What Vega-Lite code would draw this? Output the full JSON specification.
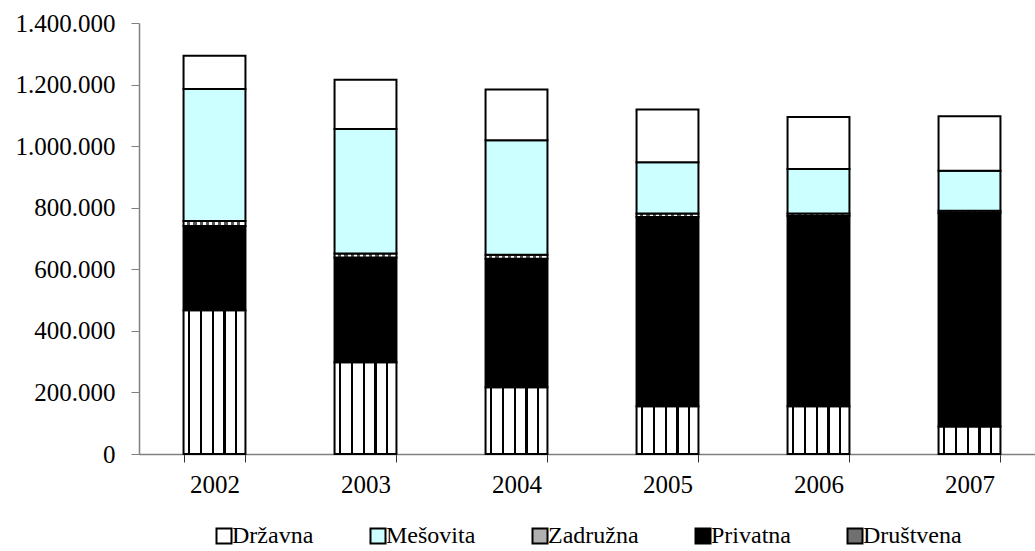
{
  "$schema": "https://vega.github.io/schema/vega-lite/v6.json",
  "width": 896,
  "height": 431,
  "autosize": "none",
  "padding": {"left": 139, "top": 23, "right": 0, "bottom": 97},
  "background": "white",
  "config": {"view": {"stroke": null}, "font": "Liberation Serif"},
  "datasets": {
    "stackOrder": [
      {"series": "Društvena", "k": 1},
      {"series": "Privatna", "k": 2},
      {"series": "Zadružna", "k": 3},
      {"series": "Mešovita", "k": 4},
      {"series": "Državna", "k": 5}
    ]
  },
  "data": {
    "values": [
      {"year": "2002", "series": "Društvena", "value": 467000},
      {"year": "2002", "series": "Privatna", "value": 274000},
      {"year": "2002", "series": "Zadružna", "value": 16000},
      {"year": "2002", "series": "Mešovita", "value": 429000},
      {"year": "2002", "series": "Državna", "value": 108000},
      {"year": "2003", "series": "Društvena", "value": 298000},
      {"year": "2003", "series": "Privatna", "value": 340000},
      {"year": "2003", "series": "Zadružna", "value": 13000},
      {"year": "2003", "series": "Mešovita", "value": 405000},
      {"year": "2003", "series": "Državna", "value": 160000},
      {"year": "2004", "series": "Društvena", "value": 217000},
      {"year": "2004", "series": "Privatna", "value": 417000},
      {"year": "2004", "series": "Zadružna", "value": 13000},
      {"year": "2004", "series": "Mešovita", "value": 372000},
      {"year": "2004", "series": "Državna", "value": 165000},
      {"year": "2005", "series": "Društvena", "value": 155000},
      {"year": "2005", "series": "Privatna", "value": 615000},
      {"year": "2005", "series": "Zadružna", "value": 11000},
      {"year": "2005", "series": "Mešovita", "value": 167000},
      {"year": "2005", "series": "Državna", "value": 171000},
      {"year": "2006", "series": "Društvena", "value": 155000},
      {"year": "2006", "series": "Privatna", "value": 618000},
      {"year": "2006", "series": "Zadružna", "value": 8000},
      {"year": "2006", "series": "Mešovita", "value": 145000},
      {"year": "2006", "series": "Državna", "value": 169000},
      {"year": "2007", "series": "Društvena", "value": 89000},
      {"year": "2007", "series": "Privatna", "value": 694000},
      {"year": "2007", "series": "Zadružna", "value": 7000},
      {"year": "2007", "series": "Mešovita", "value": 130000},
      {"year": "2007", "series": "Državna", "value": 177000}
    ]
  },
  "transform": [
    {"lookup": "series", "from": {"data": {"name": "stackOrder"}, "key": "series", "fields": ["k"]}}
  ],
  "mark": {"type": "bar", "stroke": "black", "strokeWidth": 2},
  "encoding": {
    "x": {
      "field": "year",
      "type": "nominal",
      "scale": {"range": [0, 906], "paddingInner": 0.59, "paddingOuter": 0.295},
      "axis": {
        "title": null,
        "labelAngle": 0,
        "tickBand": "extent",
        "labelFont": "Liberation Serif",
        "labelFontSize": 25,
        "labelColor": "black",
        "domainColor": "#808080",
        "domainWidth": 1.5,
        "tickColor": "#333333",
        "tickSize": 8,
        "labelPadding": 10
      }
    },
    "y": {
      "field": "value",
      "type": "quantitative",
      "stack": "zero",
      "scale": {"domain": [0, 1400000], "nice": false},
      "axis": {
        "title": null,
        "values": [0, 200000, 400000, 600000, 800000, 1000000, 1200000, 1400000],
        "grid": false,
        "labelExpr": "replace(format(datum.value, ','), /,/g, '.')",
        "labelFont": "Liberation Serif",
        "labelFontSize": 25,
        "labelColor": "black",
        "domainColor": "#808080",
        "domainWidth": 1.5,
        "tickColor": "#808080",
        "tickSize": 8,
        "labelPadding": 16
      }
    },
    "order": {"field": "k", "type": "quantitative", "sort": "ascending"},
    "fill": {
      "condition": [
        {"test": "datum.series === 'Zadružna'", "value": {"gradient": "linear", "x1": 0, "y1": 0, "x2": 1, "y2": 0, "stops": [
            {"offset": 0, "color": "#ffffff"}, {"offset": 0.06, "color": "#ffffff"}, {"offset": 0.06, "color": "#555555"}, {"offset": 0.11, "color": "#555555"},
            {"offset": 0.11, "color": "#ffffff"}, {"offset": 0.16, "color": "#ffffff"}, {"offset": 0.16, "color": "#555555"}, {"offset": 0.21, "color": "#555555"},
            {"offset": 0.21, "color": "#ffffff"}, {"offset": 0.26, "color": "#ffffff"}, {"offset": 0.26, "color": "#555555"}, {"offset": 0.31, "color": "#555555"},
            {"offset": 0.31, "color": "#ffffff"}, {"offset": 0.36, "color": "#ffffff"}, {"offset": 0.36, "color": "#555555"}, {"offset": 0.41, "color": "#555555"},
            {"offset": 0.41, "color": "#ffffff"}, {"offset": 0.46, "color": "#ffffff"}, {"offset": 0.46, "color": "#555555"}, {"offset": 0.51, "color": "#555555"},
            {"offset": 0.51, "color": "#ffffff"}, {"offset": 0.56, "color": "#ffffff"}, {"offset": 0.56, "color": "#555555"}, {"offset": 0.61, "color": "#555555"},
            {"offset": 0.61, "color": "#ffffff"}, {"offset": 0.66, "color": "#ffffff"}, {"offset": 0.66, "color": "#555555"}, {"offset": 0.71, "color": "#555555"},
            {"offset": 0.71, "color": "#ffffff"}, {"offset": 0.76, "color": "#ffffff"}, {"offset": 0.76, "color": "#555555"}, {"offset": 0.81, "color": "#555555"},
            {"offset": 0.81, "color": "#ffffff"}, {"offset": 0.86, "color": "#ffffff"}, {"offset": 0.86, "color": "#555555"}, {"offset": 0.91, "color": "#555555"},
            {"offset": 0.91, "color": "#ffffff"}, {"offset": 1, "color": "#ffffff"}
          ]}},
        {"test": "datum.series === 'Društvena'", "value": {"gradient": "linear", "x1": 0, "y1": 0, "x2": 1, "y2": 0, "stops": [
            {"offset": 0, "color": "#ffffff"}, {"offset": 0.075, "color": "#ffffff"}, {"offset": 0.075, "color": "#000000"}, {"offset": 0.11, "color": "#000000"},
            {"offset": 0.11, "color": "#ffffff"}, {"offset": 0.265, "color": "#ffffff"}, {"offset": 0.265, "color": "#000000"}, {"offset": 0.30, "color": "#000000"},
            {"offset": 0.30, "color": "#ffffff"}, {"offset": 0.455, "color": "#ffffff"}, {"offset": 0.455, "color": "#000000"}, {"offset": 0.49, "color": "#000000"},
            {"offset": 0.49, "color": "#ffffff"}, {"offset": 0.645, "color": "#ffffff"}, {"offset": 0.645, "color": "#000000"}, {"offset": 0.68, "color": "#000000"},
            {"offset": 0.68, "color": "#ffffff"}, {"offset": 0.835, "color": "#ffffff"}, {"offset": 0.835, "color": "#000000"}, {"offset": 0.87, "color": "#000000"},
            {"offset": 0.87, "color": "#ffffff"}, {"offset": 1, "color": "#ffffff"}
          ]}}
      ],
      "field": "series",
      "type": "nominal",
      "sort": ["Državna", "Mešovita", "Zadružna", "Privatna", "Društvena"],
      "scale": {
        "domain": ["Državna", "Mešovita", "Zadružna", "Privatna", "Društvena"],
        "range": ["#ffffff", "#ccffff", "#b0b0b0", "#000000", "#707070"]
      },
      "legend": {
        "orient": "none",
        "direction": "horizontal",
        "legendX": 73,
        "legendY": 501,
        "title": null,
        "symbolType": "square",
        "symbolSize": 225,
        "symbolStrokeColor": "black",
        "symbolStrokeWidth": 2,
        "symbolOpacity": 1,
        "labelFont": "Liberation Serif",
        "labelFontSize": 24,
        "labelColor": "black",
        "labelOffset": -4,
        "columnPadding": 52,
        "labelLimit": 300
      }
    }
  }
}
